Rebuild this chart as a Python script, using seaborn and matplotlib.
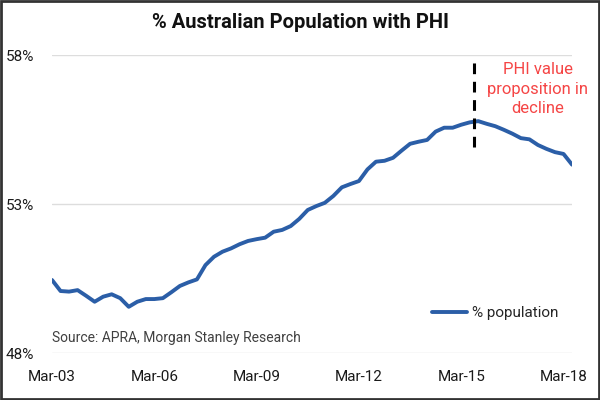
import pandas as pd
import matplotlib.pyplot as plt
import seaborn as sns
import numpy as np

# quarterly % of population with private health insurance, Mar-03 .. Jun-18
quarters = pd.date_range('2003-03-01', periods=62, freq='QS-MAR').strftime('%b-%y').tolist()
pct_population = [
    50.45, 50.08, 50.06, 50.11, 49.92, 49.72, 49.89, 49.97, 49.84, 49.55,
    49.72, 49.81, 49.81, 49.84, 50.04, 50.25, 50.37, 50.47, 50.95, 51.23,
    51.40, 51.51, 51.65, 51.76, 51.82, 51.87, 52.07, 52.13, 52.26, 52.50,
    52.80, 52.93, 53.04, 53.27, 53.56, 53.67, 53.77, 54.16, 54.42, 54.45,
    54.55, 54.79, 55.02, 55.09, 55.15, 55.43, 55.56, 55.56, 55.66, 55.74,
    55.78, 55.69, 55.61, 55.49, 55.36, 55.21, 55.17, 54.98, 54.85, 54.74,
    54.68, 54.32,
]
tick_labels = ['Mar-03', 'Mar-06', 'Mar-09', 'Mar-12', 'Mar-15', 'Mar-18']
y_ticks = [48, 53, 58]
peak_pos = 49.5
peak_span = (54.9, 57.8)

df = pd.DataFrame({'pos': np.arange(len(pct_population)),
                   'quarter': quarters,
                   'value': pct_population})

sns.set_theme(style='white')
plt.rcParams['font.family'] = ['Roboto', 'DejaVu Sans']

fig = plt.figure(figsize=(6, 4), dpi=100)
ax = fig.add_axes([0.0867, 0.1175, 0.8667, 0.745])

sns.lineplot(data=df, x='pos', y='value', ax=ax, color='#2b5ea7',
             linewidth=2.8, label='% population')

ax.vlines(peak_pos, peak_span[0], peak_span[1], colors='black',
          linestyles=(0, (3.5, 2.5)), linewidth=2.2)
ax.text(57.0, 57.75, 'PHI value\nproposition in\ndecline', color='#f54545',
        fontsize=12, ha='center', va='top', linespacing=1.35)

ax.set_xlim(0, len(pct_population) - 1)
ax.set_ylim(48, 58)
ax.set_yticks(y_ticks)
ax.set_yticklabels([f'{t}%' for t in y_ticks])
tick_pos = [quarters.index(t) for t in tick_labels]
ax.set_xticks(tick_pos)
ax.set_xticklabels(tick_labels)
ax.tick_params(axis='both', labelsize=11, colors='#1a1a1a', length=0)
ax.tick_params(axis='x', pad=12)
ax.tick_params(axis='y', pad=13)
ax.grid(axis='y', color='#dddddd', linewidth=1)
for s in ax.spines.values():
    s.set_visible(False)
ax.set_xlabel('')
ax.set_ylabel('')

ax.text(0, 48.5, 'Source: APRA, Morgan Stanley Research', fontsize=10,
        color='#404040', ha='left', va='center')

leg = ax.legend(loc='center right', bbox_to_anchor=(0.985, 0.134), frameon=False,
                fontsize=11, handlelength=2.3, handletextpad=0.3, borderaxespad=0)

fig.suptitle('% Australian Population with PHI', fontsize=14.5, fontweight='bold',
             y=0.968, color='#111111')

# outer frame
fig.patches.append(plt.Rectangle((0.002, 0.003), 0.996, 0.994, transform=fig.transFigure,
                                 fill=False, edgecolor='#333333', linewidth=2))

fig.savefig('out.png', dpi=100)
